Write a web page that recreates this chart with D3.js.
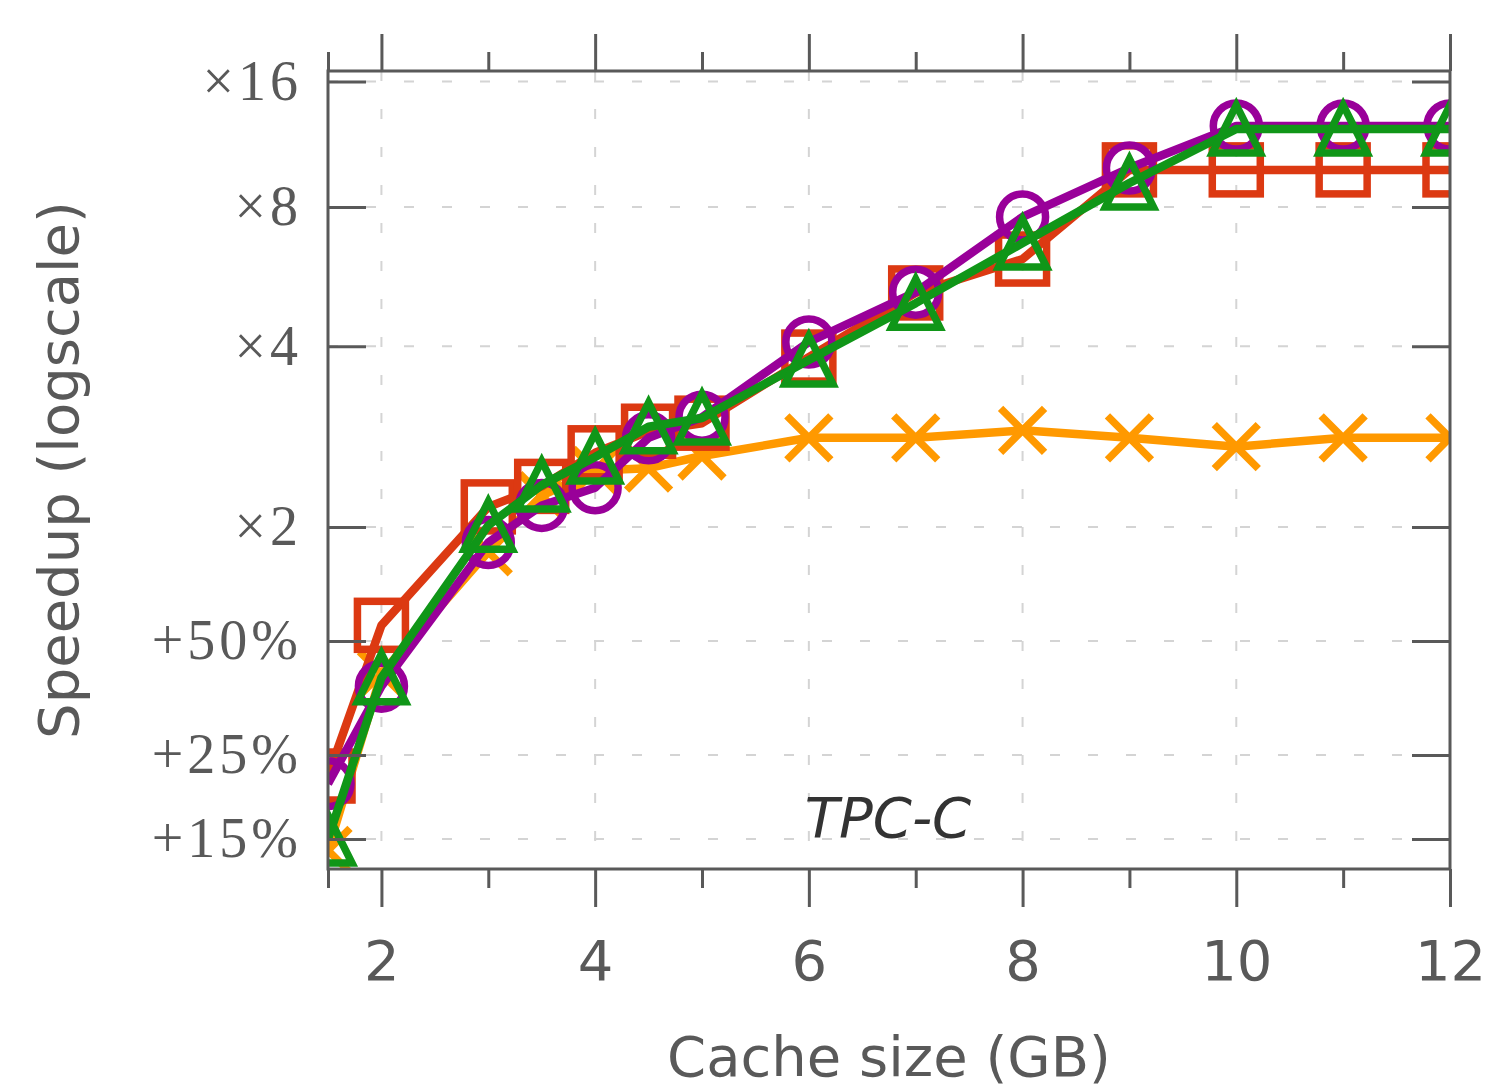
<!DOCTYPE html>
<html>
<head>
<meta charset="utf-8">
<title>TPC-C speedup</title>
<script src="https://d3js.org/d3.v7.min.js"></script>
<style>
  body { margin: 0; background: #fff; }
  svg { display: block; }
</style>
</head>
<body>
<svg id="chart" width="1485" height="1088"></svg>
<script>
// cache sizes (GB)
const cacheSizes = [1.5, 2, 3, 3.5, 4, 4.5, 5, 6, 7, 8, 9, 10, 11, 12];

// speedups, one list per curve
const crossSpeedup    = [1.14, 1.41, 1.86, 2.21, 2.41, 2.43, 2.54, 2.72, 2.72, 2.80, 2.72, 2.63, 2.72, 2.72];
const squareSpeedup   = [1.22, 1.55, 2.13, 2.28, 2.57, 2.79, 2.88, 3.81, 5.15, 6.10, 9.77, 9.77, 9.77, 9.77];
const circleSpeedup   = [1.21, 1.38, 1.91, 2.14, 2.27, 2.72, 2.95, 4.08, 5.17, 7.59, 9.87, 12.45, 12.45, 12.45];
const triangleSpeedup = [1.15, 1.40, 2.01, 2.29, 2.53, 2.84, 2.94, 3.76, 4.90, 6.62, 9.10, 12.24, 12.24, 12.24];

const yTickValues = [16, 8, 4, 2, 1.5, 1.25, 1.15];
const yTickLabels = ["×16", "×8", "×4", "×2", "+50%", "+25%", "+15%"];
const xMajorTicks = [2, 4, 6, 8, 10, 12];
const xMinorTicks = [1.5, 3, 5, 7, 9, 11];

const series = [
  {values: crossSpeedup,    color: "#ff9900", marker: "cross"},
  {values: squareSpeedup,   color: "#dc3912", marker: "square"},
  {values: circleSpeedup,   color: "#990099", marker: "circle"},
  {values: triangleSpeedup, color: "#109618", marker: "triangle"}
];

const L = 328, R = 1450, T = 71, B = 869;
const axisColor = "#595959";

const svg = d3.select("#chart");

const x = d3.scaleLinear().domain([1.5, 12]).range([L, R]);
// log of the gain (speedup - 1)
const yGain = d3.scaleLog().base(2).domain([0.125, 16]).range([B, T]);
const y = s => yGain(s - 1);

// grid
svg.append("g").selectAll("line").data(yTickValues).join("line")
  .attr("x1", L).attr("x2", R)
  .attr("y1", d => y(d)).attr("y2", d => y(d))
  .attr("stroke", "#d4d4d4").attr("stroke-width", 2)
  .attr("stroke-dasharray", "10,28");
svg.append("g").selectAll("line").data(xMajorTicks).join("line")
  .attr("x1", d => x(d)).attr("x2", d => x(d))
  .attr("y1", T).attr("y2", B)
  .attr("stroke", "#d4d4d4").attr("stroke-width", 2)
  .attr("stroke-dasharray", "10,28");

// clip for the curves
svg.append("clipPath").attr("id", "plotclip")
  .append("rect").attr("x", L).attr("y", T).attr("width", R - L).attr("height", B - T);

const plot = svg.append("g").attr("clip-path", "url(#plotclip)");

const line = d3.line().x((d, i) => x(cacheSizes[i])).y(d => y(d));

function drawMarker(g, kind, color) {
  if (kind === "square") {
    g.append("rect").attr("x", -24).attr("y", -24).attr("width", 48).attr("height", 48)
      .attr("fill", "none").attr("stroke", color).attr("stroke-width", 7.5);
  } else if (kind === "circle") {
    g.append("circle").attr("r", 23)
      .attr("fill", "none").attr("stroke", color).attr("stroke-width", 7.5);
  } else if (kind === "triangle") {
    g.append("path").attr("d", "M0,-24L-24,24L24,24Z")
      .attr("fill", "none").attr("stroke", color).attr("stroke-width", 7.5)
      .attr("stroke-linejoin", "miter");
  } else {
    g.append("path").attr("d", "M-22,-22L22,22M-22,22L22,-22")
      .attr("fill", "none").attr("stroke", color).attr("stroke-width", 7.5);
  }
}

series.forEach(s => {
  plot.append("path")
    .attr("d", line(s.values))
    .attr("fill", "none")
    .attr("stroke", s.color)
    .attr("stroke-width", 8.5)
    .attr("stroke-linejoin", "round");
  plot.append("g").selectAll("g").data(s.values).join("g")
    .attr("transform", (d, i) => `translate(${x(cacheSizes[i])},${y(d)})`)
    .each(function() { drawMarker(d3.select(this), s.marker, s.color); });
});

// axes
function styleAxis(g) {
  g.select(".domain").remove();
  g.selectAll(".tick line").attr("stroke", axisColor).attr("stroke-width", 3);
  g.selectAll(".tick text").attr("fill", axisColor);
}

svg.append("g").attr("transform", `translate(0,${B})`)
  .call(d3.axisBottom(x).tickValues(xMajorTicks).tickSize(38).tickPadding(33).tickFormat(d3.format("d")))
  .call(styleAxis)
  .selectAll("text").attr("font-family", "DejaVu Sans").attr("font-size", 56);
svg.append("g").attr("transform", `translate(0,${B})`)
  .call(d3.axisBottom(x).tickValues(xMinorTicks).tickSize(19).tickFormat(""))
  .call(styleAxis);
svg.append("g").attr("transform", `translate(0,${T})`)
  .call(d3.axisTop(x).tickValues(xMajorTicks).tickSize(37).tickFormat(""))
  .call(styleAxis);
svg.append("g").attr("transform", `translate(0,${T})`)
  .call(d3.axisTop(x).tickValues(xMinorTicks).tickSize(19).tickFormat(""))
  .call(styleAxis);

svg.append("g").attr("transform", `translate(${L},0)`)
  .call(d3.axisLeft(yGain).tickValues(yTickValues.map(v => v - 1)).tickSize(-38).tickPadding(26)
    .tickFormat((d, i) => yTickLabels[i]))
  .call(styleAxis)
  .selectAll("text").attr("font-family", "Liberation Serif, DejaVu Serif, serif")
  .attr("font-size", 56).attr("letter-spacing", 4);
svg.append("g").attr("transform", `translate(${R},0)`)
  .call(d3.axisRight(yGain).tickValues(yTickValues.map(v => v - 1)).tickSize(-38).tickFormat(""))
  .call(styleAxis);

// frame
svg.append("rect").attr("x", L).attr("y", T).attr("width", R - L).attr("height", B - T)
  .attr("fill", "none").attr("stroke", axisColor).attr("stroke-width", 3);

// labels
svg.append("text")
  .attr("x", (L + R) / 2).attr("y", 1076)
  .attr("text-anchor", "middle")
  .attr("font-family", "DejaVu Sans").attr("font-size", 56).attr("fill", axisColor)
  .text("Cache size (GB)");

svg.append("text")
  .attr("transform", `translate(78,${(T + B) / 2}) rotate(-90)`)
  .attr("text-anchor", "middle")
  .attr("font-family", "DejaVu Sans").attr("font-size", 56).attr("fill", axisColor)
  .text("Speedup (logscale)");

svg.append("text")
  .attr("x", 888).attr("y", 837)
  .attr("text-anchor", "middle")
  .attr("font-family", "DejaVu Sans").attr("font-style", "italic")
  .attr("font-size", 56).attr("fill", "#333")
  .text("TPC-C");
</script>
</body>
</html>
